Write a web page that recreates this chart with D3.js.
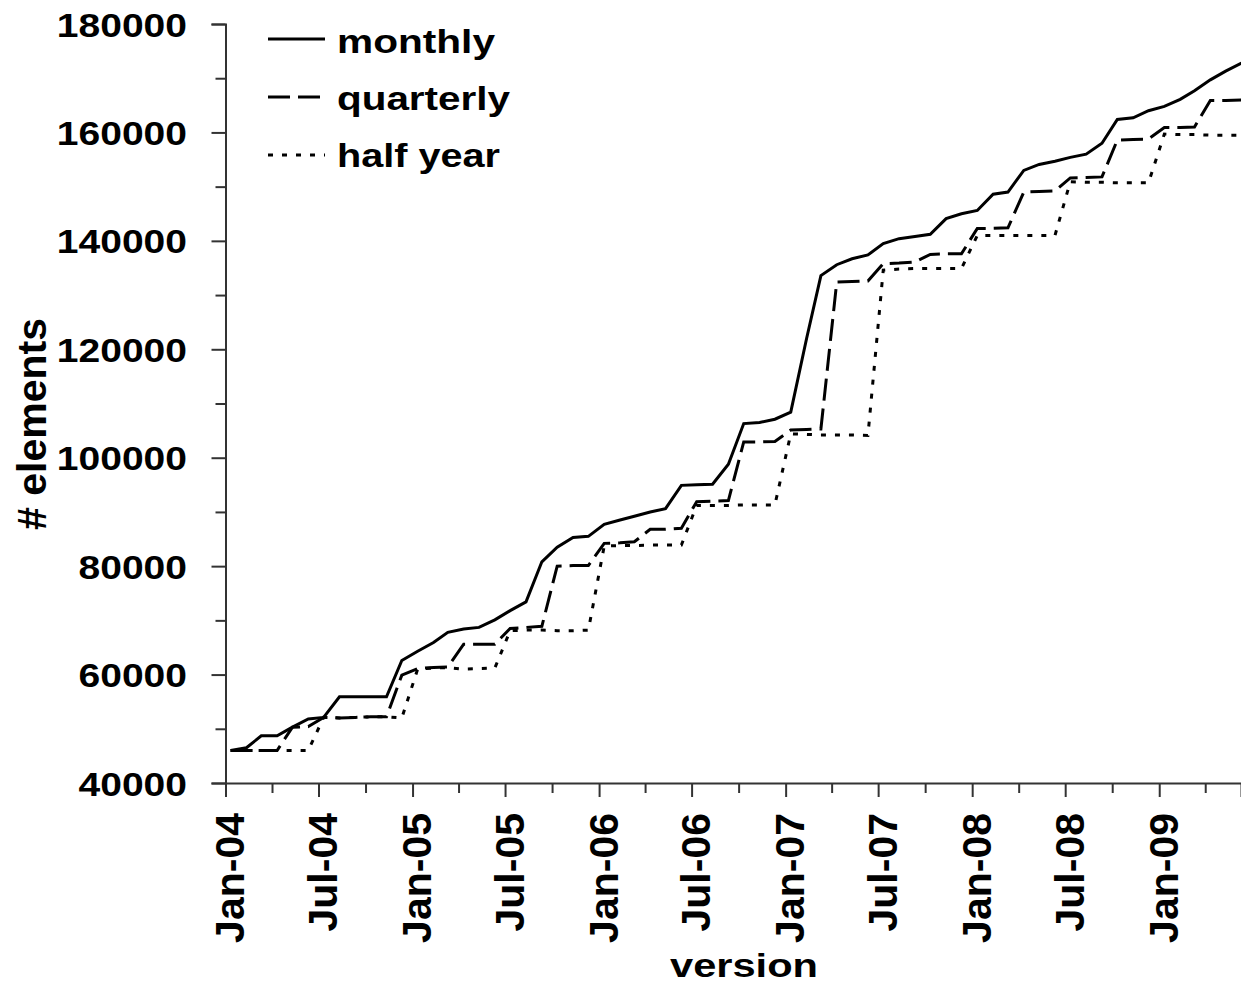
<!DOCTYPE html>
<html>
<head>
<meta charset="utf-8">
<script src="https://cdn.jsdelivr.net/npm/d3@7/dist/d3.min.js"></script>
<style>
  html, body { margin: 0; padding: 0; background: #fff; }
  svg { display: block; }
  text { font-family: "Liberation Sans", Arial, sans-serif; font-weight: bold; fill: #000; }
</style>
</head>
<body>
<svg id="chart" width="1241" height="984"></svg>
<script>
// ---- data ----
const versions = [
  "2004-01","2004-02","2004-03","2004-04","2004-05","2004-06","2004-07","2004-08","2004-09","2004-10","2004-11","2004-12",
  "2005-01","2005-02","2005-03","2005-04","2005-05","2005-06","2005-07","2005-08","2005-09","2005-10","2005-11","2005-12",
  "2006-01","2006-02","2006-03","2006-04","2006-05","2006-06","2006-07","2006-08","2006-09","2006-10","2006-11","2006-12",
  "2007-01","2007-02","2007-03","2007-04","2007-05","2007-06","2007-07","2007-08","2007-09","2007-10","2007-11","2007-12",
  "2008-01","2008-02","2008-03","2008-04","2008-05","2008-06","2008-07","2008-08","2008-09","2008-10","2008-11","2008-12",
  "2009-01","2009-02","2009-03","2009-04","2009-05","2009-06"
];
const monthly = [
  46000,46500,48700,48700,50300,51800,52100,55900,55900,55900,
  55900,62600,64300,65900,67800,68400,68700,70100,71800,73400,
  80800,83500,85300,85500,87700,88500,89200,90000,90600,94900,
  95000,95100,98800,106300,106500,107100,108400,122000,133600,135600,
  136700,137400,139500,140400,140800,141200,144100,145000,145600,148600,
  149000,153000,154100,154700,155400,156000,158000,162400,162700,164000,
  164800,166100,167700,169700,171300,172800
];
const quarterly = [
  46000,46000,46000,46000,50300,50400,52100,52000,52100,52200,
  52200,59900,61100,61300,61400,65600,65600,65600,68500,68700,
  68900,80000,80100,80100,84200,84300,84500,86800,86800,87000,
  91900,92000,92100,102900,102900,103000,105100,105200,105300,132400,
  132500,132600,135800,135900,136100,137500,137600,137600,142300,142300,
  142400,149000,149100,149200,151600,151700,151800,158600,158700,158800,
  160900,160900,161000,165900,165900,166000
];
const halfYear = [
  46000,46000,46000,46000,46000,46000,52100,52000,52100,52200,
  52200,52000,61000,61200,61300,61000,61100,61200,68100,68200,
  68200,68100,68100,68200,83700,83800,83800,83900,83900,83900,
  91200,91200,91200,91300,91300,91300,104400,104300,104200,104200,
  104200,104100,134600,134800,134900,134900,134900,134900,141000,141000,
  141000,141000,141000,141000,150900,150800,150800,150700,150700,150700,
  159700,159600,159600,159500,159500,159500
];
const seriesNames = ["monthly", "quarterly", "half year"];
const yTicks = [40000, 60000, 80000, 100000, 120000, 140000, 160000, 180000];
const xDomain = ["2004-01-01", "2009-06-10"];

// ---- layout ----
const svg = d3.select("#chart");
const mLeft = 225.5, mRight = 1241, mTop = 24, mBottom = 783;
const parseDay = d3.timeParse("%Y-%m-%d");
const parseMonth = d3.timeParse("%Y-%m");
const dates = versions.map(v => d3.timeDay.offset(parseMonth(v), 10));

const x = d3.scaleTime().domain(xDomain.map(parseDay)).range([mLeft, mRight]);
const y = d3.scaleLinear().domain([40000, 180000]).range([mBottom, mTop]);

const axisColor = "#333";

// ---- x axis ----
const xTickVals = d3.timeMonth.every(3).range(parseDay(xDomain[0]), d3.timeDay.offset(parseDay(xDomain[1]), 1));
const fmt = d3.timeFormat("%b-%y");
const isMajor = d => d.getMonth() % 6 === 0;
const xAxis = d3.axisBottom(x).tickValues(xTickVals).tickSizeOuter(0).tickSize(14)
  .tickFormat(d => isMajor(d) ? fmt(d) : "");
const gx = svg.append("g").attr("transform", `translate(0,${mBottom})`).call(xAxis);
gx.attr("font-family", null).attr("font-size", null);
gx.select(".domain").attr("stroke", axisColor).attr("stroke-width", 2);
gx.selectAll(".tick line").attr("stroke", axisColor).attr("stroke-width", 2)
  .attr("y2", d => isMajor(d) ? 14 : 10);
gx.selectAll(".tick text")
  .attr("x", 0).attr("y", 0).attr("dy", null)
  .attr("text-anchor", "end")
  .attr("transform", "translate(18,30) rotate(-90)")
  .style("font-size", "41px");

// ---- y axis ----
const yMinor = d3.range(40000, 180001, 10000);
const yAxis = d3.axisLeft(y).tickValues(yMinor).tickSizeOuter(0).tickSize(14)
  .tickFormat(d => yTicks.includes(d) ? d : "");
const gy = svg.append("g").attr("transform", `translate(${mLeft},0)`).call(yAxis);
gy.attr("font-family", null).attr("font-size", null);
gy.select(".domain").attr("stroke", axisColor).attr("stroke-width", 2);
gy.selectAll(".tick line").attr("stroke", axisColor).attr("stroke-width", 2)
  .attr("x2", d => yTicks.includes(d) ? -14 : -10);
gy.selectAll(".tick text")
  .attr("x", -38.5).attr("dy", "12px")
  .attr("text-anchor", "end")
  .style("font-size", "34px")
  .attr("textLength", d => yTicks.includes(d) ? String(d).length * 21.7 : null)
  .attr("lengthAdjust", "spacingAndGlyphs");

// ---- lines ----
svg.append("clipPath").attr("id", "plotclip").append("rect")
  .attr("x", mLeft).attr("y", 0).attr("width", mRight - mLeft).attr("height", mBottom);
const styles = [
  { data: monthly, dash: null },
  { data: quarterly, dash: "22,8" },
  { data: halfYear, dash: "5,9" }
];
const line = d3.line().x((d, i) => x(dates[i])).y(d => y(d));
const gl = svg.append("g").attr("clip-path", "url(#plotclip)");
styles.forEach(s => {
  gl.append("path")
    .attr("d", line(s.data))
    .attr("fill", "none")
    .attr("stroke", "#000")
    .attr("stroke-width", 3)
    .attr("stroke-dasharray", s.dash);
});

// ---- legend ----
const legendY = [39, 97, 155];
const legendBase = [53, 110, 167];
const legendW = [158, 173, 163];
const lg = svg.append("g");
seriesNames.forEach((name, i) => {
  lg.append("line")
    .attr("x1", 268).attr("x2", 325)
    .attr("y1", legendY[i]).attr("y2", legendY[i])
    .attr("stroke", "#000").attr("stroke-width", 3)
    .attr("stroke-dasharray", styles[i].dash);
  lg.append("text")
    .attr("x", 337).attr("y", legendBase[i])
    .style("font-size", "34px")
    .attr("textLength", legendW[i]).attr("lengthAdjust", "spacingAndGlyphs")
    .text(name);
});

// ---- axis titles ----
svg.append("text")
  .attr("x", 744).attr("y", 977)
  .attr("text-anchor", "middle")
  .style("font-size", "34px")
  .attr("textLength", 148).attr("lengthAdjust", "spacingAndGlyphs")
  .text("version");
svg.append("text")
  .attr("transform", "translate(46,424) rotate(-90)")
  .attr("text-anchor", "middle")
  .style("font-size", "41px")
  .text("# elements");
</script>
</body>
</html>
